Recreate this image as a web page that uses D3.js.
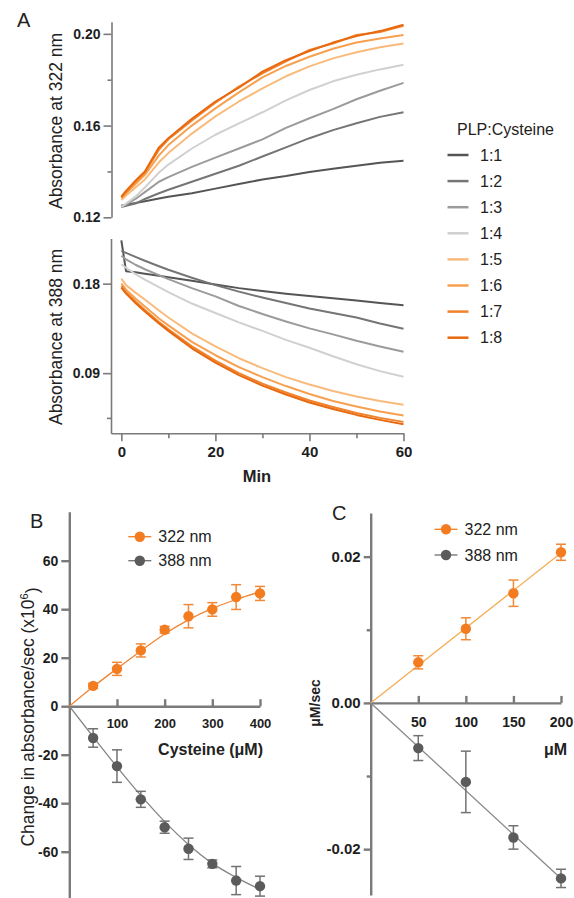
<!DOCTYPE html>
<html>
<head>
<meta charset="utf-8">
<script src="https://cdnjs.cloudflare.com/ajax/libs/d3/7.8.5/d3.min.js"></script>
<style>
  body { margin: 0; background: #fff; }
  svg  { display: block; font-family: 'Liberation Sans', Arial, sans-serif; }
  .axis path, .axis line { stroke: #7a7a7a; }
  .axis text { font-weight: bold; fill: #1e1e1e; font-family: 'Liberation Sans', Arial, sans-serif; }
  .title { fill: #222; }
</style>
</head>
<body>
<svg id="chart" width="574" height="898"></svg>
<script>
// ---------------------------------------------------------------------------------------------
// Data.
// ---------------------------------------------------------------------------------------------

// Panel A: kinetics, absorbance vs time (min) for each PLP:Cysteine ratio.
const minutes = [ 0, 1, 3, 5, 8, 10, 15, 20, 25, 30, 35, 40, 45, 50, 55, 60 ];
const ratios  = [ '1:1', '1:2', '1:3', '1:4', '1:5', '1:6', '1:7', '1:8' ];

const abs322 = [
  [ .1250, .1255, .1262, .1270, .1282, .1290, .1305, .1325, .1345, .1365, .1380, .1398, .1412, .1425, .1438, .1447 ],
  [ .1245, .1250, .1260, .1280, .1305, .1320, .1355, .1390, .1425, .1465, .1505, .1545, .1580, .1610, .1638, .1658 ],
  [ .1245, .1255, .1280, .1310, .1355, .1375, .1420, .1460, .1500, .1540, .1590, .1632, .1672, .1715, .1752, .1786 ],
  [ .1245, .1260, .1290, .1330, .1395, .1430, .1500, .1560, .1610, .1658, .1710, .1755, .1793, .1822, .1845, .1865 ],
  [ .1275, .1295, .1330, .1365, .1440, .1480, .1565, .1640, .1705, .1762, .1815, .1858, .1893, .1920, .1942, .1958 ],
  [ .1285, .1305, .1345, .1385, .1470, .1515, .1600, .1675, .1745, .1810, .1860, .1900, .1935, .1962, .1980, .1995 ],
  [ .1285, .1310, .1355, .1395, .1495, .1540, .1622, .1700, .1770, .1828, .1880, .1930, .1958, .1995, .2008, .2035 ],
  [ .1290, .1315, .1360, .1400, .1505, .1545, .1630, .1705, .1765, .1835, .1885, .1925, .1962, .1990, .2012, .2040 ]
];

const abs388 = [
  [ .2235, .1925, .1915, .1900, .1880, .1865, .1830, .1792, .1755, .1725, .1698, .1675, .1652, .1630, .1605, .1582 ],
  [ .2130, .2110, .2070, .2030, .1975, .1940, .1860, .1785, .1720, .1660, .1605, .1550, .1505, .1460, .1400, .1347 ],
  [ .2080, .2045, .1990, .1945, .1885, .1845, .1755, .1672, .1575, .1495, .1420, .1350, .1290, .1225, .1168, .1115 ],
  [ .1995, .1960, .1895, .1840, .1765, .1715, .1600, .1505, .1410, .1325, .1235, .1155, .1070, .0990, .0920, .0863 ],
  [ .1850, .1785, .1710, .1640, .1530, .1460, .1300, .1170, .1050, .0950, .0860, .0785, .0720, .0665, .0620, .0581 ],
  [ .1800, .1740, .1650, .1570, .1450, .1380, .1215, .1080, .0960, .0860, .0770, .0690, .0620, .0565, .0515, .0474 ],
  [ .1775, .1715, .1620, .1535, .1415, .1340, .1170, .1025, .0900, .0795, .0705, .0625, .0560, .0500, .0450, .0410 ],
  [ .1760, .1700, .1605, .1520, .1400, .1325, .1150, .1005, .0880, .0775, .0685, .0605, .0540, .0480, .0430, .0385 ]
];

const ticksA322      = [ 0.12, 0.16, 0.20 ];
const minorTicksA322 = [ 0.14, 0.18 ];
const ticksA388      = [ 0.09, 0.18 ];
const minorTicksA388 = [ 0.045 ];
const ticksMin       = [ 0, 20, 40, 60 ];
const minorTicksMin  = [ 10, 30, 50 ];

// Panel B: rate vs cysteine (µM).
const cysteine = [ 50, 100, 150, 200, 250, 300, 350, 400 ];
const rate322  = [ 8.4, 15.4, 23.0, 31.5, 37.1, 39.9, 45.0, 46.5 ];
const err322   = [ 1.0, 2.7, 2.7, 1.4, 4.8, 2.8, 5.1, 2.9 ];
const rate388  = [ -13.1, -24.7, -38.4, -49.9, -58.8, -65.0, -71.9, -74.2 ];
const err388   = [ 3.8, 6.7, 3.3, 2.5, 4.4, 1.6, 5.8, 4.1 ];
const fitCys   = [ 0, 50, 100, 150, 200, 250, 300, 350, 400 ];
const fit322   = [ 0, 8.0, 15.5, 22.8, 29.8, 35.6, 40.3, 44.0, 47.2 ];
const fit388   = [ 0, -12.6, -25.0, -36.8, -47.6, -57.0, -64.8, -70.6, -75.6 ];
const ticksBY  = [ -60, -40, -20, 0, 20, 40, 60 ];
const ticksBX  = [ 100, 200, 300, 400 ];

// Panel C: µM/sec vs µM.
const conc     = [ 50, 100, 150, 200 ];
const c322     = [ 0.00555, 0.01014, 0.0150, 0.0206 ];
const c322Err  = [ 0.0009, 0.0015, 0.0018, 0.0011 ];
const c388     = [ -0.00618, -0.0108, -0.0184, -0.0240 ];
const c388Err  = [ 0.0017, 0.0042, 0.0016, 0.00125 ];
const fitConc  = [ 0, 200 ];
const cFit322  = [ 0, 0.0205 ];
const cFit388  = [ 0, -0.0240 ];
const ticksCY      = [ -0.02, 0, 0.02 ];
const minorTicksCY = [ -0.01, 0.01 ];
const ticksCX      = [ 50, 100, 150, 200 ];

const wavelengths = [ '322 nm', '388 nm' ];

// ---------------------------------------------------------------------------------------------
// Styles.
// ---------------------------------------------------------------------------------------------
const ratioColors = [ '#555555', '#757575', '#9b9b9b', '#d0d0d0', '#f9bb7c', '#f6a050', '#f0832c', '#e8690f' ];
const orange      = '#f47c20';
const grey        = '#5b5b5b';

const svg = d3.select( '#chart' );

// Small helper: an axis group with the usual look.
const drawAxis = ( axis, x, y, width ) => {
  const g = svg.append( 'g' )
    .attr( 'class', 'axis' )
    .attr( 'transform', `translate( ${x}, ${y} )` )
    .call( axis );
  g.selectAll( 'path, line' ).attr( 'stroke-width', width );
  return g;
};

const addText = ( txt, x, y, size, opts = {} ) => {
  const t = svg.append( 'text' )
    .attr( 'class', 'title' )
    .attr( 'font-size', size )
    .attr( 'font-weight', opts.bold ? 'bold' : 'normal' )
    .attr( 'text-anchor', opts.anchor || 'start' );
  if ( opts.rotate ) {
    t.attr( 'transform', `translate( ${x}, ${y} ) rotate( -90 )` ).attr( 'dy', '0.35em' );
  } else {
    t.attr( 'x', x ).attr( 'y', y );
  }
  t.text( txt );
  return t;
};

// ---------------------------------------------------------------------------------------------
// Panel A.
// ---------------------------------------------------------------------------------------------
const xA    = d3.scaleLinear( ).domain( [ -2.2, 60 ] ).range( [ 111, 403.5 ] );
const yTop  = d3.scaleLinear( ).domain( [ 0.12, 0.2053 ] ).range( [ 217.3, 21.7 ] );
const yBot  = d3.scaleLinear( ).domain( [ 0.0295, 0.2254 ] ).range( [ 433.3, 238.5 ] );
const fmt2  = d3.format( '.2f' );

// Top y axis.
drawAxis( d3.axisLeft( yTop ).tickValues( ticksA322 ).tickSize( 8 ).tickSizeOuter( 0 )
  .tickPadding( 3 ).tickFormat( fmt2 ), 111.5, 0, 1.6 ).selectAll( 'text' ).attr( 'font-size', 14 );
drawAxis( d3.axisLeft( yTop ).tickValues( minorTicksA322 ).tickSize( 4 ).tickFormat( '' ), 111.5, 0, 1.6 )
  .select( '.domain' ).remove( );

// Bottom y axis.
drawAxis( d3.axisLeft( yBot ).tickValues( ticksA388 ).tickSize( 8 ).tickSizeOuter( 0 )
  .tickPadding( 3 ).tickFormat( fmt2 ), 111, 0, 1.6 ).selectAll( 'text' ).attr( 'font-size', 14 );
drawAxis( d3.axisLeft( yBot ).tickValues( minorTicksA388 ).tickSize( 4 ).tickFormat( '' ), 111, 0, 1.6 )
  .select( '.domain' ).remove( );

// Time axis.
drawAxis( d3.axisBottom( xA ).tickValues( ticksMin ).tickSize( 8 ).tickSizeOuter( 0 )
  .tickPadding( 5 ), 0, 433.3, 1.6 ).selectAll( 'text' ).attr( 'font-size', 15 );
drawAxis( d3.axisBottom( xA ).tickValues( minorTicksMin ).tickSize( 5 ).tickFormat( '' ), 0, 433.3, 1.6 )
  .select( '.domain' ).remove( );

// Kinetic traces.
const lineTop = d3.line( ).x( ( d, i ) => xA( minutes[i] ) ).y( d => yTop( d ) );
const lineBot = d3.line( ).x( ( d, i ) => xA( minutes[i] ) ).y( d => yBot( d ) );

svg.append( 'g' ).selectAll( 'path' )
  .data( abs322 ).enter( ).append( 'path' )
    .attr( 'd', lineTop )
    .attr( 'fill', 'none' )
    .attr( 'stroke', ( d, i ) => ratioColors[i] )
    .attr( 'stroke-width', 2 )
    .attr( 'stroke-linejoin', 'round' );

svg.append( 'g' ).selectAll( 'path' )
  .data( abs388 ).enter( ).append( 'path' )
    .attr( 'd', lineBot )
    .attr( 'fill', 'none' )
    .attr( 'stroke', ( d, i ) => ratioColors[i] )
    .attr( 'stroke-width', 2 )
    .attr( 'stroke-linejoin', 'round' );

addText( 'A', 17, 27, 20 );
addText( 'Absorbance at 322 nm', 56, 121, 17.5, { rotate: true, anchor: 'middle' } );
addText( 'Absorbance at 388 nm', 56, 337, 17.5, { rotate: true, anchor: 'middle' } );
addText( 'Min', 257, 482, 16.5, { bold: true, anchor: 'middle' } );

// Legend.
addText( 'PLP:Cysteine', 457, 135, 16 );
const legA = svg.append( 'g' ).selectAll( 'g' )
  .data( ratios ).enter( ).append( 'g' )
    .attr( 'transform', ( d, i ) => `translate( 0, ${155 + i * 26.1} )` );
legA.append( 'line' )
  .attr( 'x1', 447.5 ).attr( 'x2', 468.5 )
  .attr( 'stroke', ( d, i ) => ratioColors[i] )
  .attr( 'stroke-width', 2.5 );
legA.append( 'text' )
  .attr( 'x', 480 ).attr( 'dy', '0.36em' )
  .attr( 'font-size', 16 ).attr( 'fill', '#222' )
  .text( d => d );

// ---------------------------------------------------------------------------------------------
// Scatter panels with error bars and fits.
// ---------------------------------------------------------------------------------------------
const drawSeries = ( x, y, xs, ys, errs, color, errColor ) => {
  const g = svg.append( 'g' );
  const pts = xs.map( ( v, i ) => ( { x: v, y: ys[i], e: errs[i] } ) );
  const bars = g.selectAll( 'g' ).data( pts ).enter( ).append( 'g' )
    .attr( 'stroke', errColor ).attr( 'stroke-width', 1.5 );
  bars.append( 'line' )
    .attr( 'x1', d => x( d.x ) ).attr( 'x2', d => x( d.x ) )
    .attr( 'y1', d => y( d.y - d.e ) ).attr( 'y2', d => y( d.y + d.e ) );
  bars.append( 'line' )
    .attr( 'x1', d => x( d.x ) - 5 ).attr( 'x2', d => x( d.x ) + 5 )
    .attr( 'y1', d => y( d.y + d.e ) ).attr( 'y2', d => y( d.y + d.e ) );
  bars.append( 'line' )
    .attr( 'x1', d => x( d.x ) - 5 ).attr( 'x2', d => x( d.x ) + 5 )
    .attr( 'y1', d => y( d.y - d.e ) ).attr( 'y2', d => y( d.y - d.e ) );
  g.selectAll( 'circle' ).data( pts ).enter( ).append( 'circle' )
    .attr( 'cx', d => x( d.x ) ).attr( 'cy', d => y( d.y ) )
    .attr( 'r', 5.2 ).attr( 'fill', color );
};

const drawFit = ( x, y, xs, ys, color, curve ) => {
  svg.append( 'path' )
    .datum( ys )
    .attr( 'd', d3.line( ).x( ( d, i ) => x( xs[i] ) ).y( d => y( d ) ).curve( curve ) )
    .attr( 'fill', 'none' )
    .attr( 'stroke', color )
    .attr( 'stroke-width', 1.3 );
};

const drawLegend = ( x0, y0, gap ) => {
  const g = svg.append( 'g' ).selectAll( 'g' )
    .data( wavelengths ).enter( ).append( 'g' )
      .attr( 'transform', ( d, i ) => `translate( ${x0}, ${y0 + i * gap} )` );
  g.append( 'line' )
    .attr( 'x1', 0 ).attr( 'x2', 23 )
    .attr( 'stroke', ( d, i ) => i ? '#6e6e6e' : orange ).attr( 'stroke-width', 1.3 );
  g.append( 'circle' )
    .attr( 'cx', 11.5 ).attr( 'r', 5.2 )
    .attr( 'fill', ( d, i ) => i ? grey : orange );
  g.append( 'text' )
    .attr( 'x', 30 ).attr( 'dy', '0.36em' )
    .attr( 'font-size', 16 ).attr( 'fill', '#222' )
    .text( d => d );
};

// Panel B.
const xB = d3.scaleLinear( ).domain( [ 0, 400 ] ).range( [ 69.3, 260 ] );
const yB = d3.scaleLinear( ).domain( [ -79.5, 80.2 ] ).range( [ 899, 511.7 ] );

drawAxis( d3.axisLeft( yB ).tickValues( ticksBY ).tickSize( 8 ).tickSizeOuter( 0 )
  .tickPadding( 3 ).tickFormat( d => String( d ) ), 69.3, 0, 2.4 ).selectAll( 'text' ).attr( 'font-size', 14 );
drawAxis( d3.axisBottom( xB ).tickValues( ticksBX ).tickSizeInner( -7 ).tickSizeOuter( 0 )
  .tickPadding( 13 ), 0, yB( 0 ), 2.4 ).selectAll( 'text' ).attr( 'font-size', 13 );

drawFit( xB, yB, fitCys, fit322, '#f08535', d3.curveMonotoneX );
drawFit( xB, yB, fitCys, fit388, '#858585', d3.curveMonotoneX );
drawSeries( xB, yB, cysteine, rate322, err322, orange, '#f08a3a' );
drawSeries( xB, yB, cysteine, rate388, err388, grey, '#727272' );
drawLegend( 128.3, 536.7, 24 );

addText( 'B', 30, 528, 20 );
const yTitleB = addText( 'Change in absorbance/sec (x10', 28, 717, 17.5, { rotate: true, anchor: 'middle' } );
yTitleB.append( 'tspan' ).attr( 'font-size', 11 ).attr( 'dy', '-0.6em' ).text( '6' );
yTitleB.append( 'tspan' ).attr( 'dy', '0.6em' ).text( ')' );
addText( 'Cysteine (μM)', 263, 755, 16, { bold: true, anchor: 'end' } );

// Panel C.
const xC = d3.scaleLinear( ).domain( [ 0, 200 ] ).range( [ 370.7, 561 ] );
const yC = d3.scaleLinear( ).domain( [ -0.02627, 0.02597 ] ).range( [ 895, 513 ] );

drawAxis( d3.axisLeft( yC ).tickValues( ticksCY ).tickSize( 7 ).tickSizeOuter( 0 )
  .tickPadding( 3 ).tickFormat( d => fmt2( d ).replace( '−', '-' ) ), 370.7, 0, 2.4 )
  .selectAll( 'text' ).attr( 'font-size', 15 );
drawAxis( d3.axisLeft( yC ).tickValues( minorTicksCY ).tickSize( 4 ).tickFormat( '' ), 370.7, 0, 2.4 )
  .select( '.domain' ).remove( );
drawAxis( d3.axisBottom( xC ).tickValues( ticksCX ).tickSizeInner( -7 ).tickSizeOuter( 0 )
  .tickPadding( 14 ), 0, yC( 0 ), 2.4 ).selectAll( 'text' ).attr( 'font-size', 14 );

drawFit( xC, yC, fitConc, cFit322, '#f5ad55', d3.curveLinear );
drawFit( xC, yC, fitConc, cFit388, '#8a8a8a', d3.curveLinear );
drawSeries( xC, yC, conc, c322, c322Err, orange, '#f08a3a' );
drawSeries( xC, yC, conc, c388, c388Err, grey, '#727272' );
drawLegend( 434.5, 529.3, 25.7 );

addText( 'C', 332, 520, 20 );
addText( 'μM/sec', 315, 703, 14, { bold: true, rotate: true, anchor: 'middle' } );
addText( 'μM', 567, 755, 16, { bold: true, anchor: 'end' } );
</script>
</body>
</html>
